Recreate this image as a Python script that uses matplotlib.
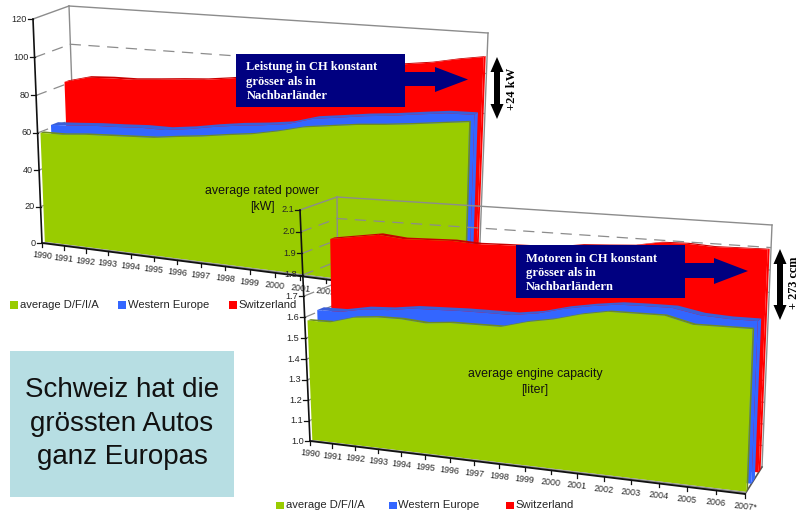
import numpy as np
import matplotlib
matplotlib.use("Agg")
import matplotlib.pyplot as plt
from matplotlib.patches import Rectangle, Polygon

plt.rcParams['font.family'] = ['Liberation Sans', 'DejaVu Sans']

# ---- data ----
year_labels = ['1990', '1991', '1992', '1993', '1994', '1995', '1996', '1997', '1998',
               '1999', '2000', '2001', '2002', '2003', '2004', '2005', '2006', '2007*']
series_names = ['average D/F/I/A', 'Western Europe', 'Switzerland']

power_avg = [59.5, 59.5, 60.5, 61, 61.5, 62, 63.5, 64.8, 66.5, 68, 70.4, 73.4, 75, 76.6, 77.6, 78.9, 80.4, 81.9]
power_west = [61.5, 62.2, 63, 63.4, 64, 63.9, 65.4, 67.5, 69.2, 70.4, 72, 75.6, 77.2, 78.9, 80.1, 81.7, 83.2, 83.4]
power_swiss = [81.5, 84.6, 85.2, 85.3, 86.2, 87.2, 88, 89.5, 91.4, 93.3, 95.2, 97.3, 99.4, 101.3, 102.9, 104.5, 107, 109]

engine_avg = [1.58, 1.58, 1.61, 1.62, 1.62, 1.61, 1.62, 1.62, 1.62, 1.65, 1.67, 1.70, 1.72, 1.72, 1.72, 1.69, 1.69, 1.69]
engine_west = [1.61, 1.61, 1.63, 1.635, 1.65, 1.653, 1.656, 1.656, 1.655, 1.671, 1.70, 1.72, 1.735, 1.737, 1.737, 1.714, 1.707, 1.707]
engine_swiss = [1.917, 1.934, 1.951, 1.939, 1.942, 1.945, 1.938, 1.941, 1.943, 1.946, 1.963, 1.969, 1.976, 1.997, 2.0, 1.993, 1.995, 1.997]

power_ticks = [0, 20, 40, 60, 80, 100, 120]
engine_ticks = [1.0, 1.1, 1.2, 1.3, 1.4, 1.5, 1.6, 1.7, 1.8, 1.9, 2.0, 2.1]

# ---- styling ----
GREEN, GREEN_EDGE = '#99CC00', '#6E8B22'
BLUE, BLUE_EDGE = '#3366FF', '#3A5FD8'
RED, RED_EDGE = '#FF0000', '#C80000'
NAVY = '#000080'
WALL = '#8C8C8C'
INK = '#262626'

# depth slots (0 = front of floor, 1 = back wall) of each series: face, rear
SLOTS = [(0.08, 0.18), (0.38, 0.58), (0.80, 0.92)]
FILLS = [(GREEN, GREEN_EDGE), (BLUE, BLUE_EDGE), (RED, RED_EDGE)]

fig = plt.figure(figsize=(8.0, 5.14), dpi=100)
ax = fig.add_axes([0, 0, 1, 1])
ax.set_xlim(0, 800)
ax.set_ylim(514, 0)
ax.axis('off')


def homography(src, dst):
    """Plane projection taking four (u, v) points onto four canvas points."""
    rows, rhs = [], []
    for (u, v), (x, y) in zip(src, dst):
        rows.append([u, v, 1, 0, 0, 0, -u * x, -v * x])
        rows.append([0, 0, 0, u, v, 1, -u * y, -v * y])
        rhs += [x, y]
    return np.append(np.linalg.solve(np.array(rows, float), np.array(rhs, float)), 1).reshape(3, 3)


class Box3D:
    """Perspective chart box: front and back planes blended along the depth."""

    def __init__(self, vmin, vmax, n, front, back):
        src = [(0, vmin), (n - 1, vmin), (0, vmax), (n - 1, vmax)]
        self.vmin, self.vmax, self.n = vmin, vmax, n
        self.front = homography(src, front)
        self.back = homography(src, back)

    def project(self, i, v, d):
        i, v = np.atleast_1d(i).astype(float), np.atleast_1d(v).astype(float)
        i, v = np.broadcast_arrays(i, v)
        p = np.stack([i, v, np.ones_like(i)])
        f = self.front @ p
        b = self.back @ p
        f = f[:2] / f[2]
        b = b[:2] / b[2]
        return (1 - d) * f + d * b


z = [10]


def next_z():
    z[0] += 1
    return z[0]


def draw_chart(box, ticks, tick_fmt, series, legend_y, legend_x):
    idx = np.arange(box.n)
    vmin, vmax = box.vmin, box.vmax
    dash = dict(color=WALL, lw=0.9, dashes=(9, 6))

    # walls
    zw = next_z()
    for a, b, in [((0, vmax, 0), (0, vmax, 1)), ((0, vmax, 1), (box.n - 1, vmax, 1)),
                  ((0, vmax, 1), (0, vmin, 1)), ((box.n - 1, vmax, 1), (box.n - 1, vmin, 1))]:
        pa, pb = box.project(a[0], a[1], a[2]), box.project(b[0], b[1], b[2])
        ax.plot([pa[0, 0], pb[0, 0]], [pa[1, 0], pb[1, 0]], color=WALL, lw=1.0, zorder=zw)
    for t in ticks[1:-1]:
        pa, pb = box.project(0, t, 0), box.project(0, t, 1)
        pc = box.project(box.n - 1, t, 1)
        ax.plot([pa[0, 0], pb[0, 0], pc[0, 0]], [pa[1, 0], pb[1, 0], pc[1, 0]], zorder=zw, **dash)

    # floor edge on the right
    pa, pb = box.project(box.n - 1, vmin, 0), box.project(box.n - 1, vmin, 1)
    ax.plot([pa[0, 0], pb[0, 0]], [pa[1, 0], pb[1, 0]], color='#555555', lw=1.2, zorder=zw)

    # series ribbons, rear to front
    for k in (2, 1, 0):
        d0, d1 = SLOTS[k]
        fill, edge = FILLS[k]
        values = np.array(series[k], float)
        zk = next_z()
        ft = box.project(idx, values, d0)
        rt = box.project(idx, values, d1)
        fb = box.project(idx, np.full(box.n, vmin), d0)
        rb = box.project(box.n - 1, vmin, d1)
        # upper surface
        ax.add_patch(Polygon(np.column_stack([np.r_[ft[0], rt[0][::-1]], np.r_[ft[1], rt[1][::-1]]]),
                             closed=True, fc=edge, ec='none', zorder=zk))
        # right-hand side
        side = np.array([[ft[0, -1], ft[1, -1]], [rt[0, -1], rt[1, -1]],
                         [rb[0, 0], rb[1, 0]], [fb[0, -1], fb[1, -1]]])
        ax.add_patch(Polygon(side, closed=True, fc=edge if k == 0 else fill, ec='none', zorder=zk))
        # front face
        ax.add_patch(Polygon(np.column_stack([np.r_[ft[0], fb[0][::-1]], np.r_[ft[1], fb[1][::-1]]]),
                             closed=True, fc=fill, ec='none', zorder=zk))

    # floor strip, axis lines, ticks and labels
    zf = next_z()
    fa = box.project(idx, np.full(box.n, vmin), 0)
    fg = box.project(idx, np.full(box.n, vmin), SLOTS[0][0])
    ax.add_patch(Polygon(np.column_stack([np.r_[fa[0], fg[0][::-1]], np.r_[fa[1], fg[1][::-1]]]),
                         closed=True, fc='#909090', ec='none', zorder=zf))
    ax.plot(fa[0], fa[1], color='#111111', lw=1.3, zorder=zf)
    top = box.project(0, vmax, 0)
    ax.plot([fa[0, 0], top[0, 0]], [fa[1, 0], top[1, 0]], color='#111111', lw=1.2, zorder=zf)

    for t in ticks:
        p = box.project(0, t, 0)
        x, y = p[0, 0], p[1, 0]
        ax.plot([x - 5, x], [y, y], color='#111111', lw=0.9, zorder=zf)
        ax.text(x - 6, y, tick_fmt(t), ha='right', va='center', fontsize=6.6, color=INK, zorder=zf)
    for i, lab in enumerate(year_labels):
        x, y = fa[0, i], fa[1, i]
        ax.plot([x, x], [y, y + 4], color='#111111', lw=0.9, zorder=zf)
        ax.text(x, y + 12.5, lab, ha='center', va='center', rotation=-6, rotation_mode='anchor',
                fontsize=6.4, color=INK, zorder=zf)

    # legend
    for name, lx, (fill, _) in zip(series_names, legend_x, FILLS):
        ax.add_patch(Rectangle((lx, legend_y - 3.5), 7.5, 7.5, fc=fill, ec='none', zorder=zf))
        ax.text(lx + 9.5, legend_y, name, ha='left', va='center', fontsize=8.1, color=INK, zorder=zf)


def callout(x0, y0, x1, y1, lines, line_x, line_ys, shaft, head, zorder):
    ax.add_patch(Rectangle((x0, y0), x1 - x0, y1 - y0, fc=NAVY, ec='none', zorder=zorder))
    sx1, sy0, sy1 = shaft
    ax.add_patch(Rectangle((x1, sy0), sx1 - x1, sy1 - sy0, fc=NAVY, ec='none', zorder=zorder))
    hx, hy0, hy1 = head
    ax.add_patch(Polygon([(sx1, hy0), (hx, (hy0 + hy1) / 2), (sx1, hy1)], closed=True,
                         fc=NAVY, ec='none', zorder=zorder))
    for line, ly in zip(lines, line_ys):
        ax.text(line_x, ly, line, family=['Liberation Serif'], fontweight='bold', fontsize=9.0,
                color='white', ha='left', va='center', zorder=zorder)


def double_arrow(x, y0, y1, head_w=13, head_len=15, shaft_w=6, zorder=90):
    pts = [(x, y0), (x + head_w / 2, y0 + head_len), (x + shaft_w / 2, y0 + head_len),
           (x + shaft_w / 2, y1 - head_len), (x + head_w / 2, y1 - head_len), (x, y1),
           (x - head_w / 2, y1 - head_len), (x - shaft_w / 2, y1 - head_len),
           (x - shaft_w / 2, y0 + head_len), (x - head_w / 2, y0 + head_len)]
    ax.add_patch(Polygon(pts, closed=True, fc='black', ec='none', zorder=zorder))


# rated power chart
power_box = Box3D(0, 120, 18,
                  front=[(42, 243), (463, 297), (33, 19), (470, 39)],
                  back=[(77, 228), (479, 268), (69, 6), (488, 33)])
draw_chart(power_box, power_ticks, lambda t: f'{t}', [power_avg, power_west, power_swiss],
           304.5, [10, 118, 229])
ax.text(262, 191, 'average rated power', ha='center', va='center', fontsize=8.9, color='#111111', zorder=z[0])
ax.text(262, 207, '[kW]', ha='center', va='center', fontsize=8.9, color='#111111', zorder=z[0])

# engine capacity chart, laid over the first one
engine_box = Box3D(1.0, 2.1, 18,
                   front=[(310, 441), (745, 494), (300, 210), (755, 228)],
                   back=[(339, 428), (762, 467), (337, 197), (772, 225)])
draw_chart(engine_box, engine_ticks, lambda t: f'{t:.1f}', [engine_avg, engine_west, engine_swiss],
           505, [276, 389, 506])
ax.text(535, 374, 'average engine capacity', ha='center', va='center', fontsize=8.9, color='#111111', zorder=z[0])
ax.text(535, 390, '[liter]', ha='center', va='center', fontsize=8.9, color='#111111', zorder=z[0])

# annotations
callout(236, 54, 405, 107, ['Leistung in CH konstant', 'grösser als in', 'Nachbarländer'],
        246.5, [67, 81.5, 96], (435, 72, 86), (468, 67, 92), 80)
callout(516, 245, 685, 298, ['Motoren in CH konstant', 'grösser als in', 'Nachbarländern'],
        526, [258.5, 273, 287.5], (714, 263, 278), (748, 258, 284), 80)

double_arrow(497, 57, 119)
double_arrow(780, 249, 320)
ax.text(512, 89, '+24 kW', rotation=90, family=['Liberation Serif'], fontweight='bold', fontsize=9.0,
        color='black', ha='center', va='center', zorder=90)
ax.text(794, 283, '+ 273 ccm', rotation=90, family=['Liberation Serif'], fontweight='bold', fontsize=8.8,
        color='black', ha='center', va='center', zorder=90)

# headline box
ax.add_patch(Rectangle((10, 351), 224, 146, fc='#B7DEE3', ec='none', zorder=95))
for line, y in zip(['Schweiz hat die', 'grössten Autos', 'ganz Europas'], [390, 424, 457]):
    ax.text(122, y, line, ha='center', va='center', fontsize=20, color='#111111', zorder=96)

fig.savefig('out.png', dpi=100)
